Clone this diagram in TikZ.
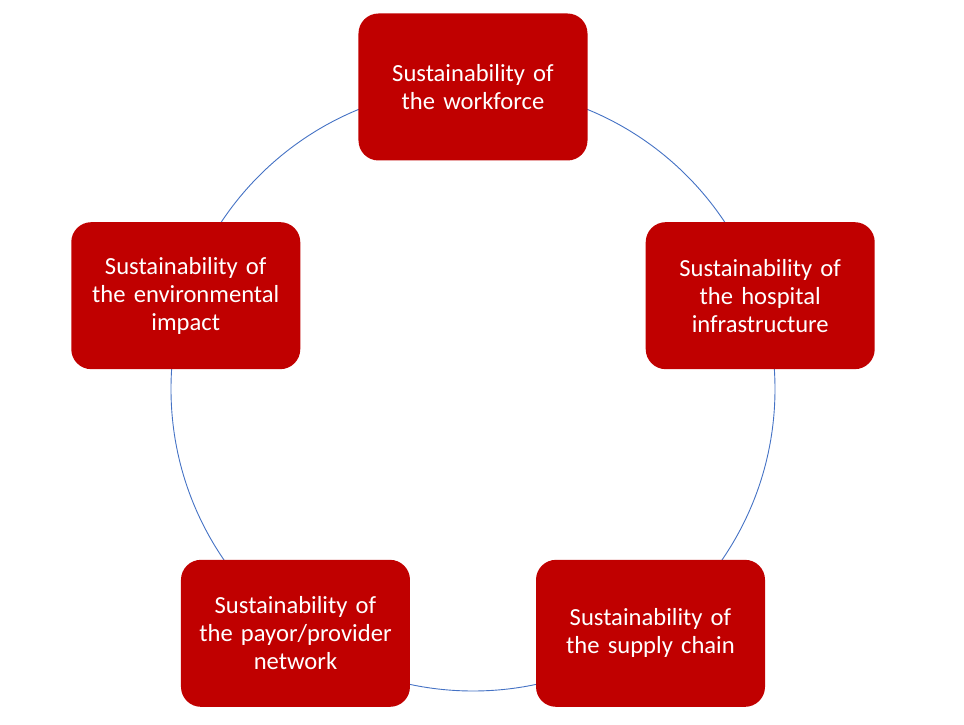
\documentclass[tikz,border=0pt]{standalone}
\usepackage{fontspec}
\setmainfont{Carlito}
\definecolor{boxred}{RGB}{192, 0, 0}
\definecolor{ringblue}{RGB}{68, 114, 196}
\usetikzlibrary{positioning}

\begin{document}
\begin{tikzpicture}[x=1pt, y=1pt,
  pillar/.style={fill=boxred, rounded corners=20pt, text=white, minimum width=229pt, minimum height=147pt, text width=200pt, align=center, font=\fontsize{24.6}{28}\selectfont}]
  \useasboundingbox (-473, -336) rectangle (491, 389);

  % Ring behind the boxes
  \coordinate (hub) at (0, 0);
  \draw[ringblue, line width=0.9pt] (hub) circle (302);

  % Workforce
  \node[pillar] (workforce) at (90:302) {Sustainability of\\the workforce};

  % Environmental impact
  \node[pillar] (environment) at (162:302) {Sustainability of\\the environmental\\impact};

  % Payor/provider network
  \node[pillar] (network) at (234:302) {Sustainability of\\the payor/provider\\network};

  % Supply chain
  \node[pillar] (supply) at (306:302) {Sustainability of\\the supply chain};

  % Hospital infrastructure
  \node[pillar] (hospital) at (18:302) {Sustainability of\\the hospital\\infrastructure};
\end{tikzpicture}
\end{document}
